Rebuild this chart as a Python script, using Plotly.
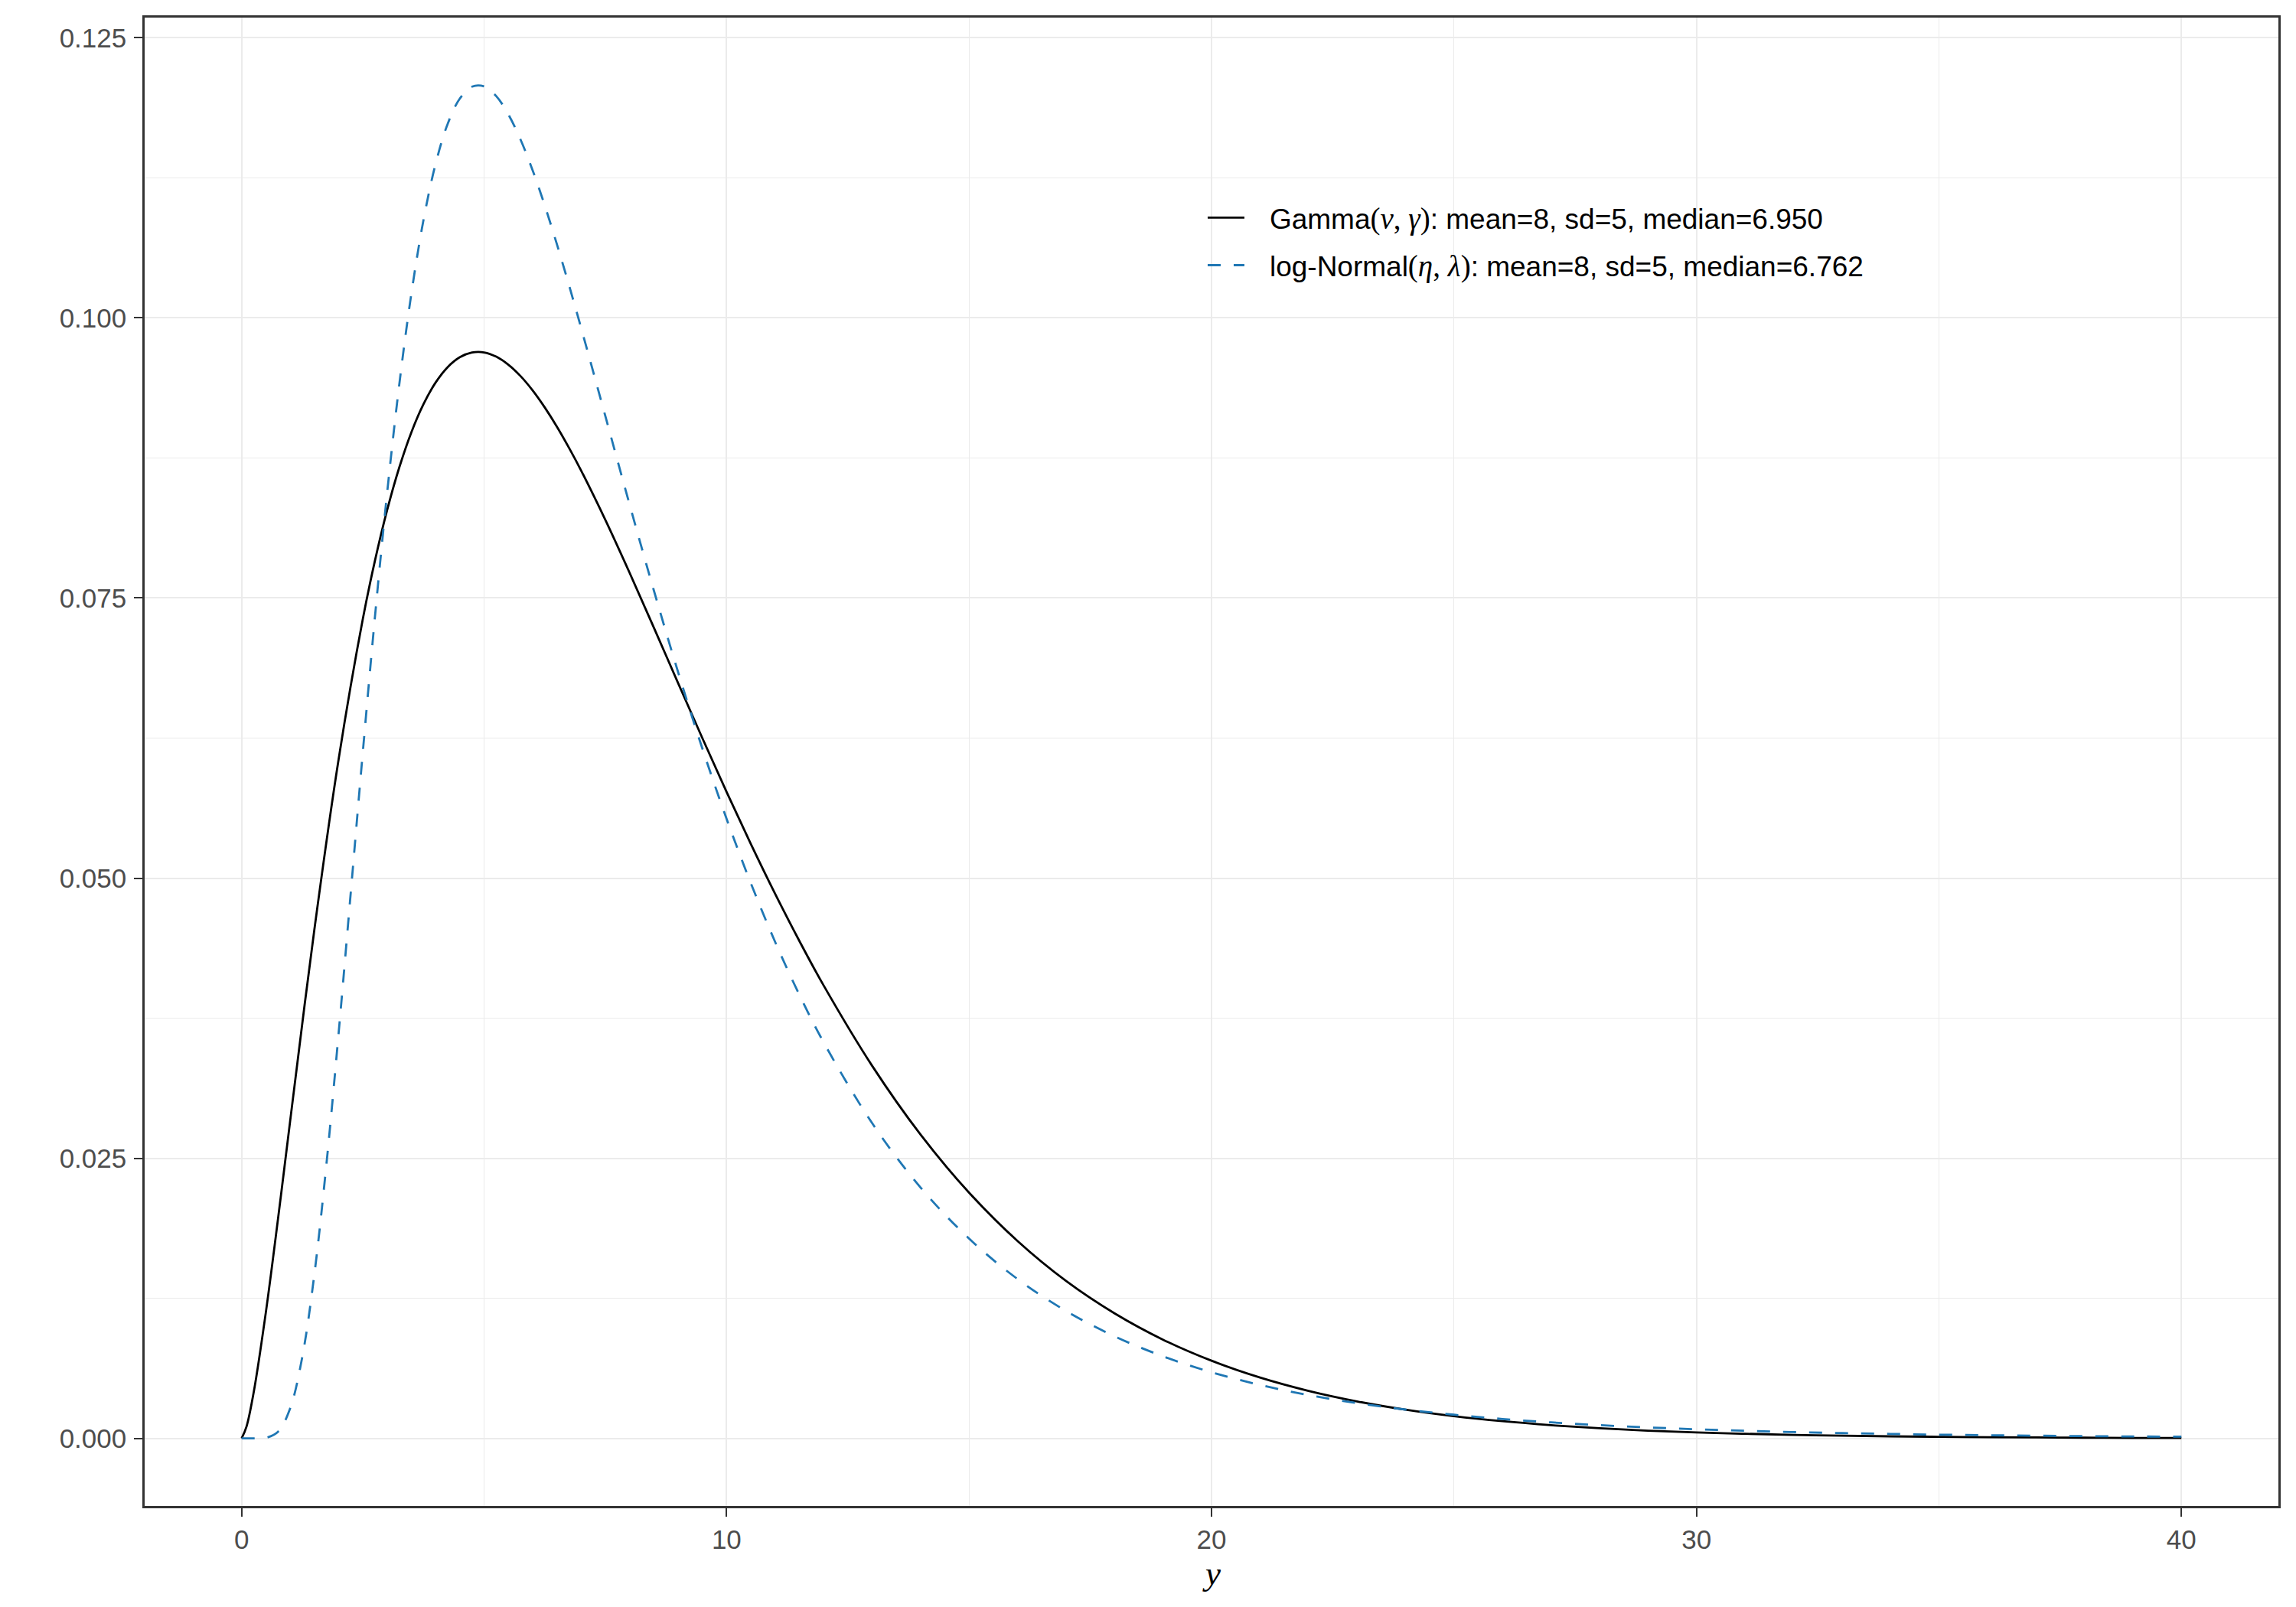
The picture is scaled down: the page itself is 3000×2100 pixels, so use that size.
import plotly.graph_objects as go

# ---- data ----
gamma_x = [0, 0.1, 0.25, 0.5, 0.75, 1, 1.5, 2, 2.5, 2.75, 3, 3.25, 3.5, 3.75, 4, 4.25, 4.5, 4.75,
           5, 5.25, 5.5, 5.75, 6, 6.25, 6.5, 6.75, 7, 7.5, 8,
           8.5, 9, 9.5, 10, 10.5, 11, 11.5, 12, 13, 14, 15, 16, 17, 18, 19, 20, 21, 22, 23, 24,
           25, 26, 27, 28, 29, 30, 31, 32, 33, 34, 35, 36, 37, 38, 39, 40]
gamma_y = [0.0, 0.00104, 0.00414, 0.01127, 0.01958, 0.02831, 0.04541, 0.06061, 0.07315, 0.07835,
           0.08284, 0.08664, 0.08979, 0.09230, 0.09423, 0.09561, 0.09649, 0.09691,
           0.09692, 0.09654, 0.09582, 0.09481, 0.09353, 0.09201, 0.09030, 0.08841, 0.08638,
           0.08197, 0.07725,
           0.07236, 0.06741, 0.06250, 0.05769, 0.05305, 0.04861, 0.04440, 0.04043, 0.03326, 0.02711,
           0.02193, 0.01761, 0.01405, 0.01116, 0.00881, 0.00693, 0.00543, 0.00424, 0.00330, 0.00256,
           0.00198, 0.00153, 0.00118, 0.00091, 0.00069, 0.00053, 0.00041, 0.00031, 0.00024, 0.00018,
           0.00014, 0.00010, 0.00008, 0.00006, 0.00004, 0.00003]

lnorm_x = [0, 0.25, 0.5, 0.75, 1, 1.25, 1.5, 1.75, 2, 2.25, 2.5, 2.75, 3, 3.25, 3.5, 3.75, 4, 4.25,
           4.5, 4.75, 5, 5.25, 5.5, 5.75, 6, 6.25, 6.5, 6.75, 7, 7.5, 8,
           8.5, 9, 9.5, 10, 10.5, 11, 11.5, 12, 13, 14, 15, 16, 17, 18, 19, 20, 21, 22, 23, 24,
           25, 26, 27, 28, 29, 30, 31, 32, 33, 34, 35, 36, 37, 38, 39, 40]
lnorm_y = [0.0, 0.0, 0.00005, 0.00059, 0.00268, 0.00725, 0.01465, 0.02453, 0.03616, 0.04869,
           0.06131, 0.07336, 0.08437, 0.09403, 0.10216, 0.10873, 0.11375, 0.11733,
           0.11958, 0.12064, 0.12066, 0.11979, 0.11816, 0.11592, 0.11318, 0.11004, 0.10659,
           0.10293, 0.09911, 0.09124,
           0.08334, 0.07568, 0.06839, 0.06158, 0.05530, 0.04955, 0.04432, 0.03960, 0.03536, 0.02814,
           0.02239, 0.01783, 0.01422, 0.01137, 0.00911, 0.00732, 0.00590, 0.00477, 0.00387, 0.00315,
           0.00257, 0.00211, 0.00173, 0.00143, 0.00118, 0.00098, 0.00081, 0.00068, 0.00056, 0.00047,
           0.00040, 0.00033, 0.00028, 0.00024, 0.00020, 0.00017, 0.00015]

x_ticks = [0, 10, 20, 30, 40]
y_ticks = [0.0, 0.025, 0.05, 0.075, 0.1, 0.125]
y_ticklabels = ["0.000", "0.025", "0.050", "0.075", "0.100", "0.125"]

serif = "Liberation Serif"
pad = "\u00a0\u00a0\u2009"
math_style = "font-family:%s;font-size:39px" % serif
gamma_name = (pad + "Gamma<span style='%s'>(<i>ν</i>, <i>γ</i>)</span>"
              ": mean=8, sd=5, median=6.950" % math_style)
lnorm_name = (pad + "log-Normal<span style='%s'>(<i>η</i>, <i>λ</i>)</span>"
              ": mean=8, sd=5, median=6.762" % math_style)

fig = go.Figure()
fig.add_trace(go.Scatter(x=gamma_x, y=gamma_y, mode="lines", name=gamma_name,
                         legendgroup="g", line=dict(color="black", width=2.8, shape="spline",
                                                    smoothing=1.0)))
fig.add_trace(go.Scatter(x=lnorm_x, y=lnorm_y, mode="lines", name=lnorm_name,
                         legendgroup="l", line=dict(color="#1F77B4", width=2.8, dash="17px,17px",
                                                    shape="spline", smoothing=1.0)))

grid = "#EBEBEB"
border = "#333333"
tickfont = dict(family="Liberation Sans", size=35, color="#4D4D4D")

# page offset of 8px (browser body margin) is compensated in the margins
PW, PH = 2788, 1945  # plot area size in px

# white background behind the legend keys (as in ggplot's legend.key)
fig.add_shape(type="rect", xref="paper", yref="paper", layer="between",
              x0=(1566 - 189) / PW, x1=(1640 - 189) / PW,
              y0=(1968 - 375) / PH, y1=(1968 - 254) / PH,
              fillcolor="white", line=dict(width=0))

fig.add_annotation(text="<i>y</i>", x=20, xref="x", y=0, yref="paper",
                   xanchor="center", yanchor="top", yshift=-61, showarrow=False,
                   font=dict(family=serif, size=45, color="black"))

fig.update_layout(
    width=2984, height=2084,
    margin=dict(l=181, r=15, t=15, b=124, autoexpand=False),
    paper_bgcolor="white", plot_bgcolor="white",
    showlegend=True,
    legend=dict(x=0.4964, y=0.8813, xanchor="left", yanchor="top",
                bgcolor="rgba(0,0,0,0)", font=dict(family="Liberation Sans", size=37, color="black"),
                itemwidth=48, tracegroupgap=11),
    xaxis=dict(range=[-2, 42], tickvals=x_ticks, ticktext=[str(v) for v in x_ticks],
               automargin=False,
               showgrid=True, gridcolor=grid, gridwidth=2.2, zeroline=False,
               minor=dict(dtick=5, tick0=0, showgrid=True, gridcolor=grid, gridwidth=1.1, ticks=""),
               ticks="outside", ticklen=11, tickwidth=2.2, tickcolor=border,
               showline=True, linecolor=border, linewidth=2.5, mirror=True,
               tickfont=tickfont),
    yaxis=dict(range=[-0.006035, 0.12680], tickvals=y_ticks, ticktext=y_ticklabels,
               automargin=False, ticklabelstandoff=3,
               showgrid=True, gridcolor=grid, gridwidth=2.2, zeroline=False,
               minor=dict(dtick=0.0125, tick0=0, showgrid=True, gridcolor=grid, gridwidth=1.1, ticks=""),
               ticks="outside", ticklen=11, tickwidth=2.2, tickcolor=border,
               showline=True, linecolor=border, linewidth=2.5, mirror=True,
               tickfont=tickfont),
)

fig.write_html("out.html")
